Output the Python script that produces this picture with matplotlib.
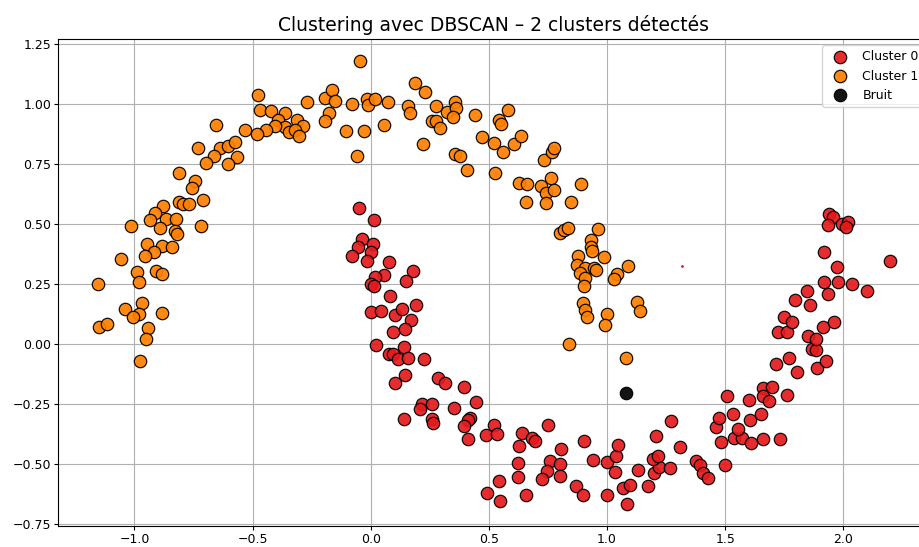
# Clustering DBSCAN sur deux lunes
import matplotlib
matplotlib.use('Agg')
import matplotlib.pyplot as plt
import numpy as np

# cluster 0 (lune du bas, rouge)
c0 = [(-0.049, 0.570), (0.013, 0.516), (-0.038, 0.437), (-0.055, 0.406), (0.011, 0.420), (0.0, 0.383),
      (-0.081, 0.366), (-0.017, 0.348), (0.078, 0.343), (0.177, 0.307), (0.054, 0.288), (0.016, 0.280),
      (0.148, 0.262), (0.0, 0.250), (0.014, 0.243), (0.082, 0.200), (0.001, 0.135), (0.045, 0.139),
      (0.102, 0.123), (0.132, 0.148), (0.192, 0.164), (0.170, 0.103), (0.146, 0.065), (0.093, 0.050),
      (0.020, -0.002), (0.139, -0.011), (0.076, -0.039), (0.095, -0.039), (0.116, -0.063), (0.156, -0.056),
      (0.226, -0.060), (0.146, -0.126), (0.102, -0.163), (0.284, -0.141), (0.314, -0.163), (0.396, -0.178),
      (0.446, -0.240), (0.215, -0.249), (0.210, -0.269), (0.259, -0.248), (0.354, -0.267), (0.139, -0.313),
      (0.257, -0.313), (0.264, -0.330), (0.420, -0.308), (0.410, -0.317), (0.396, -0.340), (0.413, -0.394),
      (0.523, -0.336), (0.487, -0.377), (0.536, -0.373), (0.639, -0.370), (0.682, -0.390), (0.696, -0.401),
      (0.751, -0.337), (0.629, -0.422), (0.803, -0.438), (0.902, -0.402), (0.622, -0.494), (0.758, -0.486),
      (0.802, -0.500), (0.745, -0.527), (0.726, -0.561), (0.802, -0.548), (0.621, -0.552), (0.543, -0.568),
      (0.491, -0.618), (0.547, -0.654), (0.659, -0.630), (0.870, -0.589), (0.898, -0.626), (0.939, -0.483),
      (0.999, -0.489), (1.038, -0.466), (1.047, -0.418), (1.035, -0.532), (0.999, -0.630), (1.066, -0.598),
      (1.085, -0.665), (1.097, -0.586), (1.174, -0.589), (1.132, -0.525), (1.199, -0.536), (1.219, -0.511),
      (1.195, -0.479), (1.216, -0.467), (1.265, -0.515), (1.307, -0.426), (1.206, -0.383), (1.269, -0.321),
      (1.377, -0.486), (1.395, -0.501), (1.405, -0.536), (1.426, -0.557), (1.499, -0.503), (1.483, -0.407),
      (1.462, -0.346), (1.475, -0.308), (1.532, -0.290), (1.538, -0.390), (1.573, -0.390), (1.608, -0.411),
      (1.556, -0.353), (1.606, -0.315), (1.651, -0.289), (1.658, -0.394), (1.732, -0.393), (1.506, -0.217),
      (1.602, -0.232), (1.661, -0.183), (1.696, -0.179), (1.661, -0.217), (1.685, -0.236), (1.762, -0.211),
      (1.717, -0.082), (1.804, -0.117), (1.888, -0.099), (1.769, -0.056), (1.926, -0.068), (1.867, -0.018),
      (1.884, -0.025), (1.850, 0.033), (1.885, 0.023), (1.724, 0.053), (1.761, 0.053), (1.913, 0.073),
      (1.749, 0.114), (1.782, 0.093), (1.962, 0.093), (1.794, 0.186), (1.860, 0.162), (1.847, 0.223),
      (1.933, 0.211), (1.917, 0.260), (1.976, 0.258), (2.035, 0.251), (2.101, 0.223), (1.919, 0.383),
      (1.975, 0.322), (2.199, 0.347), (1.940, 0.542), (1.958, 0.529), (1.933, 0.496), (1.993, 0.500),
      (2.021, 0.511), (2.011, 0.488)]

# cluster 1 (lune du haut, orange)
c1 = [(-0.479, 1.040), (-0.470, 0.975), (-0.423, 0.971), (-0.363, 0.965), (-0.392, 0.936), (-0.314, 0.936),
      (-0.286, 0.910), (-0.361, 0.906), (-0.346, 0.885), (-0.321, 0.895), (-0.304, 0.867), (-0.406, 0.910),
      (-0.444, 0.895), (-0.483, 0.877), (-0.531, 0.895), (-0.268, 1.008), (-0.194, 1.028), (-0.165, 1.061),
      (-0.151, 1.012), (-0.177, 0.964), (-0.194, 0.931), (-0.104, 0.889), (-0.654, 0.915), (-0.731, 0.818),
      (-0.639, 0.817), (-0.606, 0.828), (-0.575, 0.841), (-0.662, 0.785), (-0.568, 0.781), (-0.699, 0.755),
      (-0.603, 0.752), (-0.810, 0.713), (-0.742, 0.681), (-0.758, 0.653), (-0.708, 0.602), (-0.810, 0.591),
      (-0.796, 0.585), (-0.768, 0.583), (-0.880, 0.578), (-0.914, 0.549), (-0.934, 0.517), (-0.868, 0.524),
      (-0.823, 0.524), (-1.013, 0.494), (-0.892, 0.485), (-0.720, 0.494), (-0.827, 0.472), (-0.821, 0.459),
      (-0.948, 0.417), (-0.885, 0.408), (-0.841, 0.406), (-0.917, 0.386), (-0.954, 0.370), (-1.056, 0.355),
      (-0.989, 0.300), (-0.910, 0.304), (-0.885, 0.294), (-0.979, 0.259), (-1.156, 0.250), (-0.970, 0.171),
      (-1.041, 0.148), (-0.983, 0.128), (-1.008, 0.114), (-0.882, 0.132), (-1.151, 0.072), (-1.118, 0.083),
      (-0.941, 0.068), (-0.952, 0.022), (-0.977, -0.069),
      (-0.045, 1.180), (-0.078, 1.003), (-0.016, 1.024), (-0.013, 0.996), (0.016, 1.022), (0.071, 1.011),
      (-0.030, 0.889), (-0.059, 0.785), (0.054, 0.915), (0.189, 1.089), (0.230, 1.051), (0.157, 0.992),
      (0.165, 0.963), (0.275, 0.992), (0.258, 0.932), (0.277, 0.932), (0.294, 0.902), (0.321, 0.968),
      (0.356, 1.010), (0.362, 0.983), (0.347, 0.946), (0.223, 0.836), (0.355, 0.793), (0.377, 0.785),
      (0.408, 0.728), (0.441, 0.954), (0.470, 0.865), (0.544, 0.936), (0.552, 0.917), (0.582, 0.976),
      (0.523, 0.838), (0.559, 0.802), (0.607, 0.834), (0.636, 0.868), (0.527, 0.714), (0.734, 0.768),
      (0.767, 0.802), (0.777, 0.818), (0.627, 0.671), (0.661, 0.667), (0.722, 0.660), (0.763, 0.693),
      (0.743, 0.632), (0.777, 0.642), (0.657, 0.591), (0.742, 0.589), (0.846, 0.591), (0.888, 0.667),
      (0.801, 0.465), (0.818, 0.476), (0.835, 0.485), (0.962, 0.480), (0.934, 0.436), (0.932, 0.405),
      (0.938, 0.388), (0.879, 0.366), (0.986, 0.362), (0.874, 0.330), (0.908, 0.316), (0.946, 0.319),
      (0.955, 0.311), (0.884, 0.298), (0.908, 0.275), (0.901, 0.244), (1.040, 0.291), (1.031, 0.272),
      (1.089, 0.327), (0.898, 0.172), (0.905, 0.142), (0.917, 0.114), (0.999, 0.125), (0.990, 0.082),
      (0.837, 0.0), (1.080, -0.056), (1.127, 0.178), (1.140, 0.140)]

noise = [(1.081, -0.202)]
stray = [(1.318, 0.328)]  # petit point rouge isolé

labels = ['Cluster 0', 'Cluster 1', 'Bruit']
colors = ['#e41a1c', '#ff7f00', 'black']

c0 = np.array(c0)
c1 = np.array(c1)
noise = np.array(noise)
stray = np.array(stray)

fig = plt.figure(figsize=(9.2, 5.47), dpi=100)
ax = fig.add_axes([58 / 920, 21 / 547, 872 / 920, 487 / 547])

for pts, lab, col in zip([c0, c1, noise], labels, colors):
    ax.scatter(pts[:, 0], pts[:, 1], s=80, c=col, edgecolors='k', linewidths=0.9,
               alpha=0.92, label=lab, zorder=3)
ax.scatter(stray[:, 0], stray[:, 1], s=4, c=colors[0], linewidths=0, zorder=3)

ax.set_title('Clustering avec DBSCAN – 2 clusters détectés', fontsize=13.5)
ax.tick_params(labelsize=9, length=3, pad=2)
ax.grid(True, color='#b0b0b0', linewidth=0.8)
ax.legend(loc='upper right', fontsize=9)

fig.savefig('out.png', dpi=100)
